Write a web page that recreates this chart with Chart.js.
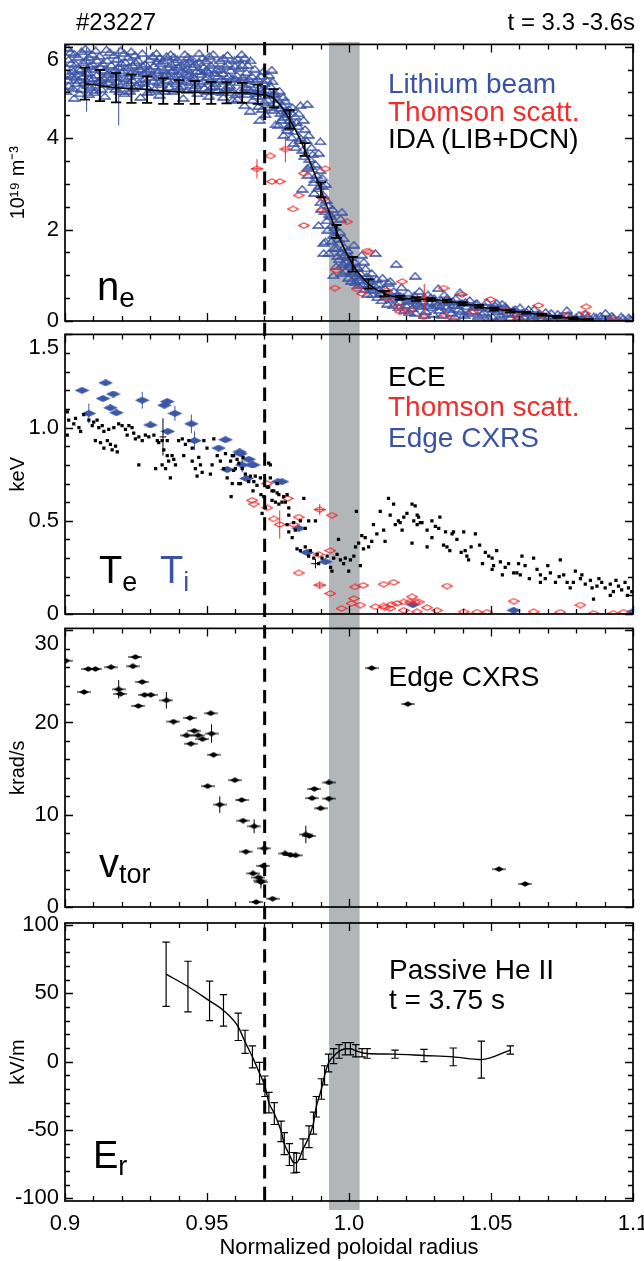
<!DOCTYPE html>
<html>
<head>
<meta charset="utf-8">
<script src="https://cdn.jsdelivr.net/npm/chart.js@4.4.1/dist/chart.umd.min.js"></script>
<style>
  html, body { margin: 0; padding: 0; background: #fff; }
  #fig { position: relative; width: 644px; height: 1261px; overflow: hidden; background: #fff;
         font-family: 'Liberation Sans', Arial, Helvetica, sans-serif; }
  #fig canvas { position: absolute; left: 0; }
  .lbl { position: absolute; white-space: nowrap; line-height: 1; color: #000; }
  .lbl .sub { position: relative; }
</style>
</head>
<body>
<div id="fig">
  <canvas id="band"></canvas>
  <canvas id="cNe"></canvas>
  <canvas id="cTe"></canvas>
  <canvas id="cVt"></canvas>
  <canvas id="cEr"></canvas>
  <canvas id="sep"></canvas>

  <div class="lbl" style="left:76px; top:10px; font-size:24px;">#23227</div>
  <div class="lbl" style="right:9px; top:10px; font-size:24px;">t = 3.3 -3.6s</div>

  <div class="lbl" style="left:388px; top:69.6px; font-size:28px; color:#3a53a4;">Lithium beam</div>
  <div class="lbl" style="left:388px; top:97.7px; font-size:28px; color:#ee2d2d;">Thomson scatt.</div>
  <div class="lbl" style="left:388px; top:125.3px; font-size:28px;">IDA (LIB+DCN)</div>
  <div class="lbl" style="left:97px; top:266px; font-size:40px;">n<span class="sub" style="font-size:28px; top:7px;">e</span></div>

  <div class="lbl" style="left:388px; top:363px; font-size:28px;">ECE</div>
  <div class="lbl" style="left:388px; top:393px; font-size:28px; color:#ee2d2d;">Thomson scatt.</div>
  <div class="lbl" style="left:388px; top:423.5px; font-size:28px; color:#3a53a4;">Edge CXRS</div>
  <div class="lbl" style="left:99px; top:551px; font-size:38px;">T<span class="sub" style="font-size:27px; top:8px;">e</span></div>
  <div class="lbl" style="left:160px; top:551px; font-size:38px; color:#3a53a4;">T<span class="sub" style="font-size:27px; top:8px;">i</span></div>

  <div class="lbl" style="left:388.5px; top:663px; font-size:28px;">Edge CXRS</div>
  <div class="lbl" style="left:99px; top:843px; font-size:40px;">v<span class="sub" style="font-size:27px; top:6px;">tor</span></div>

  <div class="lbl" style="left:389px; top:955.6px; font-size:28px;">Passive He II</div>
  <div class="lbl" style="left:389px; top:985.6px; font-size:28px;">t = 3.75 s</div>
  <div class="lbl" style="left:93px; top:1136px; font-size:38px;">E<span class="sub" style="font-size:27px; top:7px;">r</span></div>
</div>

<script>
// ---------- shared axis definitions ----------
const xRange = [0.9, 1.1];
const xTickValues = [0.9, 0.95, 1.0, 1.05, 1.1];
const xTickLabels = ['0.9', '0.95', '1.0', '1.05', '1.1'];
const xMinorStep = 0.01;

const neTicks = [0, 2, 4, 6];
const neTickLabels = ['0', '2', '4', '6'];
const teTicks = [0, 0.5, 1.0, 1.5];
const teTickLabels = ['0', '0.5', '1.0', '1.5'];
const vtTicks = [0, 10, 20, 30];
const vtTickLabels = ['0', '10', '20', '30'];
const erTicks = [-100, -50, 0, 50, 100];
const erTickLabels = ['-100', '-50', '0', '50', '100'];

// pedestal-top marker and separatrix band (normalized radius)
const pedestalX = [0.9703];
const bandX = [0.9929, 1.0038];

// ---------- density n_e [1e19 m^-3] ----------
const liCore = [
  [0.9008,5.98],[0.9012,5.72],[0.9004,5.55],[0.9015,5.41],[0.9009,5.28],[0.9013,5.15],[0.9006,5.02],
  [0.9033,5.85],[0.9038,5.62],[0.9030,5.47],[0.9036,5.33],[0.9041,5.20],[0.9032,4.88],
  [0.9058,5.90],[0.9063,5.66],[0.9055,5.50],[0.9061,5.36],[0.9066,5.22],[0.9057,5.08],
  [0.9083,5.78],[0.9088,5.58],[0.9081,5.44],[0.9086,5.30],[0.9090,5.12],[0.9084,4.96],
  [0.9108,5.92],[0.9113,5.70],[0.9105,5.52],[0.9111,5.38],[0.9116,5.25],[0.9107,5.05],
  [0.9133,5.64],[0.9138,5.49],[0.9131,5.34],[0.9136,5.18],[0.9140,4.92],
  [0.9158,5.88],[0.9163,5.60],[0.9155,5.45],[0.9161,5.30],[0.9166,5.14],
  [0.9183,5.74],[0.9188,5.56],[0.9180,5.40],[0.9186,5.24],[0.9191,5.02],
  [0.9208,5.86],[0.9213,5.66],[0.9206,5.48],[0.9211,5.32],[0.9216,5.16],[0.9209,4.98],
  [0.9233,5.90],[0.9238,5.60],[0.9230,5.42],[0.9236,5.27],[0.9241,5.10],
  [0.9258,5.70],[0.9263,5.52],[0.9256,5.37],[0.9261,5.22],[0.9266,4.90],
  [0.9283,5.62],[0.9288,5.46],[0.9281,5.30],[0.9286,5.14],[0.9290,5.00],
  [0.9308,5.80],[0.9313,5.58],[0.9305,5.40],[0.9311,5.26],[0.9316,5.08],
  [0.9333,5.76],[0.9338,5.64],[0.9330,5.48],[0.9336,5.33],[0.9341,5.18],[0.9332,4.95],
  [0.9358,5.80],[0.9363,5.55],[0.9356,5.42],[0.9361,5.28],[0.9366,5.12],
  [0.9383,5.78],[0.9388,5.66],[0.9380,5.50],[0.9386,5.36],[0.9391,5.20],[0.9382,5.04],
  [0.9408,5.60],[0.9413,5.46],[0.9405,5.30],[0.9411,5.15],[0.9416,4.88],
  [0.9433,5.78],[0.9438,5.68],[0.9430,5.52],[0.9436,5.38],[0.9441,5.22],[0.9432,5.06],
  [0.9458,5.62],[0.9463,5.47],[0.9456,5.32],[0.9461,5.16],[0.9466,4.98],
  [0.9483,5.76],[0.9488,5.56],[0.9480,5.40],[0.9486,5.25],[0.9491,5.10],
  [0.9508,5.80],[0.9513,5.60],[0.9505,5.44],[0.9511,5.28],[0.9516,5.12],[0.9507,4.92],
  [0.9533,5.50],[0.9538,5.36],[0.9530,5.20],[0.9536,5.04],
  [0.9558,5.76],[0.9563,5.58],[0.9555,5.42],[0.9561,5.26],[0.9566,5.10],[0.9557,4.90],
  [0.9583,5.48],[0.9588,5.32],[0.9580,5.16],[0.9586,5.00],[0.9591,4.84],
  [0.9608,5.74],[0.9613,5.54],[0.9605,5.38],[0.9611,5.22],[0.9616,5.06],[0.9607,4.86],
  [0.9633,5.76],[0.9638,5.44],[0.9630,5.28],[0.9636,5.12],[0.9641,4.96],[0.9632,4.72],
  [0.9653,5.70],[0.9658,5.36],[0.9650,5.18],[0.9656,5.02],[0.9661,4.84],[0.9652,4.60],
  [0.9678,5.30],[0.9683,5.10],[0.9675,4.92],[0.9681,4.70],[0.9686,4.40],
  [0.9698,5.46],[0.9703,5.20],[0.9695,5.00],[0.9701,4.80],[0.9706,4.52],
  [0.9718,5.38],[0.9723,5.14],[0.9716,4.94],[0.9721,4.68]
];
const liCoreB = [
  [0.9020,5.88],[0.9022,5.64],[0.9025,5.36],[0.9027,5.10],[0.9046,5.78],[0.9048,5.52],[0.9050,5.27],
  [0.9052,4.98],[0.9072,5.96],[0.9074,5.70],[0.9076,5.42],[0.9078,5.16],[0.9096,5.84],[0.9098,5.62],
  [0.9100,5.32],[0.9102,5.00],[0.9122,5.80],[0.9124,5.56],[0.9126,5.28],[0.9128,5.08],[0.9146,5.94],
  [0.9148,5.70],[0.9150,5.40],[0.9152,5.22],[0.9172,5.82],[0.9174,5.50],[0.9176,5.34],[0.9178,5.08],
  [0.9196,5.92],[0.9198,5.64],[0.9200,5.44],[0.9202,5.20],[0.9222,5.78],[0.9224,5.56],[0.9226,5.36],
  [0.9228,5.04],[0.9246,5.82],[0.9248,5.66],[0.9250,5.46],[0.9252,5.16],[0.9272,5.86],[0.9274,5.58],
  [0.9276,5.42],[0.9278,5.20],[0.9296,5.72],[0.9298,5.52],[0.9300,5.34],[0.9302,5.02],[0.9322,5.86],
  [0.9324,5.68],[0.9326,5.44],[0.9328,5.22],[0.9346,5.70],[0.9348,5.50],[0.9350,5.36],[0.9352,5.04],
  [0.9372,5.84],[0.9374,5.62],[0.9376,5.46],[0.9378,5.24],[0.9396,5.72],[0.9398,5.56],[0.9400,5.40],
  [0.9402,5.10],[0.9422,5.84],[0.9424,5.64],[0.9426,5.42],[0.9428,5.26],[0.9446,5.74],[0.9448,5.56],
  [0.9450,5.34],[0.9452,5.10],[0.9472,5.86],[0.9474,5.66],[0.9476,5.46],[0.9478,5.20],[0.9496,5.70],
  [0.9498,5.50],[0.9500,5.34],[0.9502,5.04],[0.9522,5.84],[0.9524,5.64],[0.9526,5.42],[0.9528,5.14],
  [0.9546,5.70],[0.9548,5.52],[0.9550,5.30],[0.9552,5.00],[0.9572,5.82],[0.9574,5.62],[0.9576,5.36],
  [0.9578,5.12],[0.9596,5.70],[0.9598,5.58],[0.9600,5.30],[0.9602,4.96],[0.9622,5.84],[0.9624,5.60],
  [0.9626,5.34],[0.9628,5.02],[0.9644,5.60],[0.9646,5.30],[0.9648,5.08],[0.9668,5.52],[0.9670,5.24],
  [0.9672,4.98],[0.9690,5.36],[0.9692,5.06],[0.9694,4.64],[0.9710,5.28],[0.9712,5.04],[0.9714,4.84],
  [0.9728,5.50],[0.9730,5.24],[0.9732,4.96]
];
const liSteep = [
  [0.9735,4.62],[0.9742,4.30],[0.9750,4.85],[0.9752,4.29],[0.9760,4.55],[0.9765,4.72],[0.9770,4.47],
  [0.9770,4.07],[0.9778,4.60],[0.9785,4.25],[0.9790,4.40],[0.9800,4.68],[0.9805,3.89],[0.9808,4.15],
  [0.9815,4.35],[0.9823,4.54],[0.9829,4.72],[0.9830,4.00],[0.9838,3.75],[0.9845,4.20],[0.9853,3.35],
  [0.9853,4.75],[0.9858,4.07],[0.9862,3.55],[0.9868,3.80],[0.9835,2.89],[0.9876,3.03],[0.9882,3.43],
  [0.9886,3.20],[0.9893,3.68],[0.9899,3.93],[0.9895,2.95],[0.9905,3.14],[0.9900,2.60],[0.9911,2.75],
  [0.9915,2.40],[0.9918,3.00],[0.9922,2.20],[0.9929,2.53],[0.9893,2.10],[0.9935,2.30],[0.9940,2.10],
  [0.9946,1.89],[0.9950,2.05],[0.9958,1.60],[0.9962,1.80],[0.9970,2.24],[0.9975,2.39],[0.9981,1.81],
  [0.9985,1.45],[0.9990,1.30],[0.9911,1.71],[0.9917,1.74],[0.9929,1.49],[0.9911,1.49],[0.9995,1.55],
  [1.0000,1.20],[1.0005,1.40],[1.0010,1.10],[1.0017,1.67],[1.0020,1.30],[1.0025,1.00],[1.0030,1.18],
  [1.0035,0.90],[1.0040,1.05],[0.9965,1.35],[0.9955,1.20],[0.9975,1.05],[0.9945,1.00]
];
const liSteepB = [
  [0.9740,4.98],[0.9745,4.76],[0.9755,5.04],[0.9758,4.66],[0.9762,4.40],[0.9768,4.90],[0.9775,4.82],
  [0.9780,4.52],[0.9782,4.18],[0.9788,4.64],[0.9795,4.32],[0.9798,4.02],[0.9810,4.48],[0.9812,3.80],
  [0.9820,4.26],[0.9826,3.95],[0.9840,4.40],[0.9842,3.60],[0.9850,3.95],[0.9855,3.20],[0.9865,3.40],
  [0.9872,3.65],[0.9878,2.80],[0.9880,3.10],[0.9890,2.90],[0.9898,3.30],[0.9902,2.45],[0.9908,2.95],
  [0.9920,2.65],[0.9926,2.00],[0.9932,2.35],[0.9938,1.75],[0.9942,2.45],[0.9948,1.60],[0.9953,1.88],
  [0.9960,1.42],[0.9968,1.95],[0.9972,1.50],[0.9978,1.25],[0.9983,1.62],[0.9988,1.10],[0.9993,1.40],
  [0.9998,0.95],[1.0003,1.25],[1.0008,0.88],[1.0015,1.05],[1.0022,0.85],[1.0028,1.15],[1.0033,0.78],
  [1.0038,0.96]
];
const liTail = [
  [1.0045,1.45],[1.0052,1.30],[1.0058,1.15],[1.0062,0.98],[1.0070,0.88],[1.0075,0.75],[1.0080,1.05],
  [1.0093,1.49],[1.0088,0.68],[1.0098,0.92],[1.0105,0.80],[1.0110,0.62],[1.0118,0.95],[1.0125,0.72],
  [1.0130,0.55],[1.0138,0.84],[1.0145,0.88],[1.0150,0.48],[1.0158,0.66],[1.0166,1.25],[1.0170,0.58],
  [1.0178,0.42],[1.0185,0.74],[1.0192,0.52],[1.0200,0.35],[1.0208,0.62],[1.0215,0.45],[1.0222,0.28],
  [1.0233,0.99],[1.0230,0.56],[1.0240,0.40],[1.0248,0.66],[1.0255,0.32],[1.0262,0.50],[1.0270,0.22],
  [1.0278,0.58],[1.0285,0.40],[1.0292,0.30],[1.0300,0.50],[1.0314,0.72],[1.0310,0.36],[1.0318,0.24],
  [1.0325,0.46],[1.0335,0.58],[1.0342,0.30],[1.0350,0.42],[1.0360,0.18],[1.0368,0.36],[1.0376,0.50],
  [1.0391,0.63],[1.0385,0.26],[1.0398,0.40],[1.0405,0.14],[1.0415,0.32],[1.0425,0.46],[1.0432,0.22],
  [1.0445,0.38],[1.0455,0.12],[1.0462,0.30],[1.0475,0.20],[1.0485,0.42],[1.0495,0.28],[1.0505,0.10],
  [1.0515,0.34],[1.0525,0.22],[1.0539,0.38],[1.0545,0.15],[1.0555,0.28],[1.0568,0.08],[1.0578,0.24],
  [1.0590,0.16],[1.0602,0.30],[1.0615,0.10],[1.0625,0.20],[1.0640,0.05],[1.0652,0.26],[1.0665,0.14],
  [1.0680,0.08],[1.0692,0.20],[1.0705,0.12],[1.0720,0.04],[1.0735,0.16],[1.0750,0.08],[1.0767,0.24],
  [1.0780,0.10],[1.0795,0.04],[1.0810,0.14],[1.0825,0.06],[1.0840,0.10],[1.0855,0.03],[1.0870,0.08],
  [1.0885,0.12],[1.0903,0.18],[1.0915,0.05],[1.0930,0.08],[1.0950,0.03],[1.0965,0.06],[1.0985,0.08],
  [1.0995,0.03]
];
const liTailB = [
  [1.0048,0.82],[1.0055,0.70],[1.0065,0.60],[1.0072,0.95],[1.0082,0.58],[1.0090,0.78],[1.0100,0.52],
  [1.0108,0.70],[1.0115,0.45],[1.0122,0.60],[1.0135,0.38],[1.0142,0.62],[1.0155,0.34],[1.0162,0.52],
  [1.0175,0.30],[1.0182,0.55],[1.0195,0.25],[1.0205,0.44],[1.0212,0.20],[1.0225,0.48],[1.0235,0.18],
  [1.0245,0.36],[1.0258,0.44],[1.0265,0.14],[1.0275,0.34],[1.0288,0.52],[1.0296,0.16],[1.0305,0.42],
  [1.0322,0.32],[1.0330,0.14],[1.0345,0.50],[1.0355,0.26],[1.0365,0.44],[1.0372,0.10],[1.0382,0.34],
  [1.0395,0.22],[1.0410,0.42],[1.0420,0.18],[1.0438,0.30],[1.0450,0.40],[1.0468,0.16],[1.0480,0.32],
  [1.0492,0.06],[1.0510,0.26],[1.0520,0.40],[1.0532,0.12],[1.0550,0.32],[1.0562,0.18],[1.0585,0.26],
  [1.0598,0.10],[1.0610,0.18],[1.0632,0.26],[1.0645,0.12],[1.0670,0.18],[1.0698,0.06],[1.0712,0.18],
  [1.0742,0.10],[1.0772,0.14],[1.0800,0.08],[1.0832,0.16],[1.0862,0.10],[1.0895,0.04],[1.0925,0.12],
  [1.0958,0.10],[1.0990,0.05]
];
const liErr = [[0.9076,5.28,0.70],[0.9189,5.13,0.85],[0.9287,5.50,0.50],[0.9491,5.45,0.09]];

const thomNe = [
  [0.9676,3.33],[0.9723,3.61],[0.9776,3.76],[0.9729,3.05],[0.9756,3.05],[0.9841,3.23],[0.9917,3.33],
  [0.9823,2.75],[0.9803,2.45],[0.9911,2.67],[0.9841,2.09],[0.9905,2.42],[0.9993,2.17],[1.0063,1.53],
  [1.0072,1.51],[0.9955,1.11],[0.9950,0.72],[1.0027,0.70],[1.0045,0.60],[1.0133,0.67],[1.0133,0.49],
  [1.0174,0.32],[1.0180,0.20],[1.0216,0.24],[1.0265,0.51],[1.0263,0.09],[1.0339,0.11],[1.0368,0.02],
  [1.0333,0.72],[1.0398,0.58],[1.0498,0.47],[1.0187,0.86],[1.0591,0.09],[1.0667,0.34],[1.0679,0.13],
  [1.0761,0.11],[1.0835,0.31],[1.0831,0.17],[1.0849,0.01],[1.0929,0.04],[1.0438,0.20],[1.0556,0.24]
];
const thomNeErr = [[0.9676,3.33,0.21,0.0022],[0.9776,3.76,0.29,0.0015],[1.0265,0.51,0.30,0]];

const idaX = [0.9070,0.9123,0.9180,0.9234,0.9289,0.9346,0.9401,0.9457,0.9515,0.9569,0.9624,0.9679,
              0.9735,0.9791,0.9844,0.9901,0.9956,1.0013,1.0069,1.0125,1.0180,1.0236,1.0289,1.0345,
              1.0401,1.0457,1.0511,1.0568,1.0623,1.0679,1.0734,1.0790,1.0843];
const idaY = [5.19,5.15,5.10,5.08,5.06,5.03,5.01,5.00,4.99,4.99,4.99,4.96,
              4.87,4.41,3.75,2.87,1.96,1.24,0.81,0.60,0.51,0.48,0.47,0.44,
              0.38,0.32,0.26,0.22,0.18,0.14,0.09,0.06,0.02];
const idaErr = [0.35,0.34,0.32,0.31,0.29,0.28,0.26,0.25,0.24,0.23,0.22,0.21,
                0.20,0.20,0.14,0.16,0.14,0.16,0.10,0.06,0.04,0.04,0.03,0.03,
                0.03,0.03,0.03,0.03,0.02,0.02,0.02,0.02,0.02];

// ---------- temperatures [keV] ----------
const eceCore = [
  [0.9008,1.085],[0.9013,1.04],[0.9008,0.96],[0.9037,1.05],[0.9031,1.02],[0.9049,1.00],[0.9055,0.98],
  [0.9066,1.07],[0.9084,1.04],[0.9096,1.01],[0.9101,1.03],[0.9113,1.04],[0.9119,1.00],[0.9131,1.01],
  [0.9137,0.98],[0.9107,0.93],[0.9125,0.92],[0.9149,0.93],[0.9137,0.89],[0.9160,0.91],[0.9166,0.88],
  [0.9178,0.90],[0.9184,0.87],[0.9154,0.99],[0.9172,1.00],[0.9189,1.02],[0.9201,1.01],[0.9213,0.99],
  [0.9225,1.01],[0.9236,1.00],[0.9219,0.96],[0.9248,0.94],[0.9242,0.97],[0.9260,0.80],[0.9260,0.95],
  [0.9272,0.93],[0.9283,0.96],[0.9295,0.95],[0.9313,0.96],[0.9325,0.93],[0.9330,0.92],[0.9319,0.78],
  [0.9342,0.93],[0.9348,0.88],[0.9360,0.93],[0.9342,0.80],[0.9360,0.85],[0.9365,0.82],[0.9377,0.85],
  [0.9383,0.83],[0.9371,0.73],[0.9354,0.78],[0.9389,0.80],[0.9400,0.93],[0.9413,0.94],[0.9424,0.91],
  [0.9436,0.93],[0.9448,0.89],[0.9418,0.85],[0.9448,0.82],[0.9459,0.78],[0.9465,0.74],[0.9483,0.76],
  [0.9477,0.80],[0.9471,0.84],[0.9489,0.93],[0.9500,0.89],[0.9518,0.80],[0.9512,0.75],[0.9524,0.94],
  [0.9536,0.85],[0.9547,0.82],[0.9559,0.78],[0.9565,0.86],[0.9571,0.73],[0.9583,0.82],[0.9589,0.70],
  [0.9594,0.77],[0.9594,0.85],[0.9585,0.63],[0.9612,0.81],[0.9618,0.70],[0.9627,0.84],[0.9635,0.75],
  [0.9647,0.71],[0.9653,0.74],[0.9665,0.71],[0.9662,0.66],[0.9676,0.69],[0.9688,0.73],[0.9690,0.64],
  [0.9700,0.63],[0.9717,0.81],[0.9717,0.68],[0.9694,0.54],[0.9735,0.66],[0.9747,0.65],[0.9729,0.61],
  [0.9753,0.59],[0.9770,0.63],[0.9776,0.60],[0.9788,0.53]
];
const eceEdge = [
  [0.9589,0.85],[0.9606,0.83],[0.9600,0.78],[0.9624,0.78],[0.9612,0.70],[0.9670,0.74],[0.9723,0.80],
  [0.9723,0.73],[0.9712,0.68],[0.9706,0.57],[0.9729,0.66],[0.9747,0.70],[0.9753,0.64],[0.9764,0.60],
  [0.9741,0.60],[0.9782,0.64],[0.9788,0.57],[0.9841,0.62],[0.9782,0.48],[0.9805,0.49],[0.9788,0.44],
  [0.9800,0.41],[0.9811,0.45],[0.9829,0.50],[0.9858,0.50],[0.9882,0.50],[0.9846,0.46],[0.9817,0.35],
  [0.9829,0.34],[0.9846,0.36],[0.9858,0.31],[0.9864,0.34],[0.9876,0.30],[0.9888,0.32],[0.9905,0.30],
  [0.9893,0.27],[0.9923,0.31],[0.9935,0.25],[0.9940,0.23],[0.9946,0.30],[0.9958,0.32],[0.9963,0.40],
  [0.9970,0.29],[0.9981,0.27],[0.9987,0.30],[0.9999,0.23],[1.0005,0.29],[1.0017,0.31],[1.0023,0.36],
  [1.0034,0.38],[1.0040,0.26],[1.0026,0.55],[1.0045,0.42],[1.0057,0.41],[1.0051,0.35],[1.0069,0.36],
  [1.0080,0.39],[1.0086,0.48],[1.0098,0.43],[1.0110,0.55],[1.0122,0.45],[1.0127,0.39],[1.0139,0.62],
  [1.0145,0.53],[1.0157,0.59],[1.0163,0.48],[1.0174,0.50],[1.0187,0.45],[1.0193,0.52],[1.0204,0.54],
  [1.0222,0.59],[1.0228,0.50],[1.0240,0.48],[1.0245,0.52],[1.0257,0.49],[1.0222,0.38],[1.0275,0.36],
  [1.0275,0.45]
];
const eceSol = [
  [1.0180,0.49],[1.0233,0.58],[1.0240,0.53],[1.0251,0.49],[1.0292,0.50],[1.0304,0.47],[1.0316,0.46],
  [1.0292,0.41],[1.0333,0.37],[1.0345,0.36],[1.0363,0.43],[1.0368,0.44],[1.0409,0.34],[1.0415,0.31],
  [1.0421,0.29],[1.0445,0.43],[1.0404,0.44],[1.0480,0.33],[1.0492,0.31],[1.0504,0.30],[1.0509,0.26],
  [1.0504,0.24],[1.0533,0.28],[1.0550,0.25],[1.0562,0.27],[1.0580,0.22],[1.0591,0.22],[1.0603,0.21],
  [1.0597,0.27],[1.0609,0.31],[1.0650,0.30],[1.0662,0.24],[1.0674,0.21],[1.0691,0.19],[1.0674,0.17],
  [1.0709,0.22],[1.0727,0.17],[1.0744,0.29],[1.0756,0.21],[1.0768,0.17],[1.0779,0.14],[1.0797,0.23],
  [1.0815,0.19],[1.0832,0.16],[1.0850,0.18],[1.0856,0.14],[1.0873,0.15],[1.0890,0.17],[1.0902,0.14],
  [1.0920,0.16],[1.0931,0.12],[1.0949,0.15],[1.0960,0.13],[1.0972,0.17],[1.0984,0.14],[1.0996,0.12],
  [1.0861,0.08],[1.0920,0.10],[1.0320,0.52],[1.0340,0.44],[1.0355,0.34],[1.0380,0.40],[1.0395,0.33],
  [1.0430,0.36],[1.0460,0.37],[1.0470,0.27],[1.0520,0.34],[1.0540,0.21],[1.0620,0.26],[1.0635,0.19],
  [1.0700,0.26],[1.0740,0.20],[1.0790,0.17],[1.0820,0.21],[1.0880,0.19],[1.0940,0.18],[1.0980,0.10]
];
const eceErr = [[0.9345,0.95,0.10,0.0012],[0.9882,0.27,0.025,0.0015]];

const thomTe = [
  [0.9712,0.70],[0.9659,0.61],[0.9665,0.59],[0.9712,0.57],[0.9735,0.51],[0.9756,0.48],[0.9784,0.62],
  [0.9805,0.48],[0.9823,0.52],[0.9897,0.56],[0.9940,0.53],[0.9934,0.34],[0.9893,0.32],[0.9823,0.22],
  [0.9897,0.155],[0.9934,0.11],[0.9974,0.03],[1.0009,0.057],[1.0021,0.145],[1.0050,0.154],[1.0017,0.083],
  [1.0040,0.048],[1.0122,0.16],[1.0157,0.17],[1.0093,0.039],[1.0122,0.043],[1.0145,0.03],[1.0169,0.057],
  [1.0193,0.065],[1.0222,0.092],[1.0233,0.065],[1.0239,0.012],[1.0193,0.02],[1.0345,0.15],[1.0275,0.034],
  [1.0310,0.02],[1.0404,0.012],[1.0451,0.01],[1.0486,0.01],[1.0580,0.069],[1.0650,0.012],[1.0744,0.01],
  [1.0815,0.048],[1.0861,0.004],[1.0931,0.004],[1.0967,0.01],[1.0127,0.034],[1.0150,0.052],[1.0216,0.065],
  [1.0245,0.065]
];
const thomTeErr = [[0.9756,0.48,0.075,0],[0.9897,0.56,0.03,0.0022],[0.9897,0.155,0.02,0.0022]];

const cxrsTi = [
  [0.9060,1.20],[0.9084,1.076],[0.9143,1.24],[0.9134,1.156],[0.9170,1.18],[0.9160,1.106],[0.9181,1.08],
  [0.9272,1.147],[0.9301,1.014],[0.9350,1.12],[0.9360,1.14],[0.9387,1.076],[0.9362,0.98],[0.9445,1.02],
  [0.9456,0.93],[0.9565,0.935],[0.9541,0.89],[0.9615,0.87],[0.9647,0.83],[0.9624,0.80],[0.9662,0.80],
  [0.9571,0.775],[0.9639,0.727],[0.9750,0.71],[0.9764,0.71],[0.9823,0.46],[0.9852,0.33],[0.9917,0.28],
  [1.0225,0.05],[1.0580,0.02],[1.1000,0.012],[0.9659,0.80],[0.9618,0.86]
];
const cxrsTiErr = [[0.9084,1.076,0.053],[0.9272,1.147,0.045],[0.9387,1.076,0.04],[0.9445,1.02,0.05],
                   [0.9456,0.93,0.05],[0.9624,0.80,0.04]];

// ---------- toroidal rotation [krad/s] ----------
const vtor = [
  [0.9002,26.7],[0.9067,23.3],[0.9082,25.8],[0.9107,25.8],[0.9162,26.0],[0.9189,23.6],[0.9195,23.1],
  [0.9239,26.1],[0.9248,27.1],[0.9272,24.4],[0.9258,21.8],[0.9280,23.0],[0.9302,23.0],[0.9357,22.4],
  [0.9382,20.1],[0.9440,20.5],[0.9428,18.6],[0.9443,17.7],[0.9455,19.1],[0.9469,18.6],[0.9484,18.2],
  [0.9513,21.0],[0.9516,18.8],[0.9502,13.1],[0.9523,16.5],[0.9545,11.1],[0.9598,13.75],[0.9622,11.6],
  [0.9627,9.36],[0.9637,6.0],[0.9666,8.75],[0.9662,3.64],[0.9673,0.54],[0.9681,3.2],[0.9688,2.86],
  [0.9690,2.7],[0.9702,6.36],[0.9698,4.46],[0.9731,0.9],[0.9775,5.8],[0.9794,5.64],[0.9812,5.6],
  [0.9848,7.86],[0.9860,7.7],[0.9878,12.8],[0.9870,11.8],[0.9900,10.7],[0.9929,13.5],[0.9929,11.75],
  [1.0080,25.9],[1.0207,22.0],[1.0528,4.1],[1.0620,2.5]
];
const vtorErr = [[0.9189,23.6,1.0],[0.9357,22.4,0.9],[0.9516,18.8,1.0],[0.9545,11.1,0.9],
                 [0.9666,8.75,0.75],[0.9690,2.7,0.7],[0.9848,7.86,0.95]];

// ---------- radial electric field [kV/m] ----------
const erX = [0.9356,0.9433,0.9509,0.9558,0.9610,0.9634,0.9660,0.9685,0.9704,0.9718,
             0.9737,0.9761,0.9772,0.9790,0.9806,0.9815,0.9838,0.9859,0.9875,0.9885,
             0.9903,0.9914,0.9928,0.9946,0.9965,0.9987,1.0005,1.0024,1.0046,1.0064,
             1.0162,1.0264,1.0367,1.0466,1.0568];
const erY = [64,55,44.5,37.5,25.5,14.5,3.5,-8.5,-18,-30,
             -38,-51,-60,-68,-74,-74,-64,-55,-45,-33,
             -20,-10,-1,4,7.5,9.5,9.5,8,6.5,6,
             5.5,4.5,3.5,1.5,8.5];
const erErr = [23.5,18.5,14.5,11.5,10,8.5,8,8,7.5,7.5,
               8,7.5,8,8,7.5,7,7.5,8,8,7.5,
               7.5,7,6.5,5.5,5,4.5,4.5,4.5,3,3.5,
               3,4.5,6.5,13.5,3];

// ---------- drawing setup ----------
const FIG_H = 1261, CANVAS_W = 700, PLOT_L = 65, PLOT_R = 633, PAD = 30;
const LI_BLUE = '#3a53a4', CX_BLUE = '#3b57a8', TS_RED = '#ee2b2b', BAND_GREY = '#b3b6b9';
Chart.defaults.font.family = "'Liberation Sans', Arial, Helvetica, sans-serif";
Chart.defaults.color = '#000';

function markCanvas(w, h, paint) {
  const c = document.createElement('canvas');
  c.width = w; c.height = h;
  paint(c.getContext('2d'), w, h);
  return c;
}
const triMark = markCanvas(13, 8, (g, w, h) => {
  g.strokeStyle = LI_BLUE; g.lineWidth = 1.3;
  g.beginPath(); g.moveTo(w / 2, 1); g.lineTo(w - 1, h - 1); g.lineTo(1, h - 1); g.closePath(); g.stroke();
});
const redDiamond = markCanvas(12, 7, (g, w, h) => {
  g.strokeStyle = TS_RED; g.lineWidth = 1.1;
  g.beginPath(); g.moveTo(0.8, h / 2); g.lineTo(w / 2, 0.8); g.lineTo(w - 0.8, h / 2); g.lineTo(w / 2, h - 0.8);
  g.closePath(); g.stroke();
});
const blueDiamond = markCanvas(15, 7, (g, w, h) => {
  g.fillStyle = CX_BLUE;
  g.beginPath(); g.moveTo(0, h / 2); g.lineTo(w / 2, 0); g.lineTo(w, h / 2); g.lineTo(w / 2, h); g.closePath(); g.fill();
});
const blackDiamond = markCanvas(14, 6, (g, w, h) => {
  g.fillStyle = '#000';
  g.beginPath(); g.moveTo(2, h / 2); g.lineTo(w / 2, 0.3); g.lineTo(w - 2, h / 2); g.lineTo(w / 2, h - 0.3); g.closePath(); g.fill();
  g.fillRect(0, h / 2 - 0.5, w, 1);
});

const toXY = arr => arr.map(([x, y]) => ({ x, y }));

// vertical (and optional horizontal) error segments, broken with null gaps
function errorPath(rows, cap) {
  const out = [];
  for (const [x, y, dy, dx] of rows) {
    if (dy) {
      out.push({ x, y: y - dy }, { x, y: y + dy }, { x, y: null });
      if (cap) {
        out.push({ x: x - cap, y: y - dy }, { x: x + cap, y: y - dy }, { x, y: null },
                 { x: x - cap, y: y + dy }, { x: x + cap, y: y + dy }, { x, y: null });
      }
    }
    if (dx) out.push({ x: x - dx, y }, { x: x + dx, y }, { x, y: null });
  }
  return out;
}
const marks = (data, style, order, radius) => ({
  data: toXY(data), pointStyle: style, pointRadius: radius || 3, pointBackgroundColor: '#000',
  pointBorderWidth: 0, showLine: false, order
});
const lines = (data, color, width, order, extra) => Object.assign({
  data, borderColor: color, borderWidth: width, pointRadius: 0, showLine: true, fill: false,
  tension: 0, spanGaps: false, order
}, extra || {});

// frame and inward tick marks on all four sides
const frameTicks = {
  id: 'frameTicks',
  afterDatasetsDraw(chart, _args, o) {
    const { ctx, chartArea: a } = chart;
    const xs = chart.scales.x, ys = chart.scales.y;
    const isMajor = (v, majors) => majors.some(m => Math.abs(m - v) < 1e-7);
    ctx.save();
    ctx.strokeStyle = '#000';
    ctx.lineWidth = 1.3;
    ctx.beginPath();
    for (let i = 0; ; i++) {
      const v = +(xRange[0] + i * xMinorStep).toFixed(6);
      if (v > xRange[1] + 1e-9) break;
      const px = Math.round(xs.getPixelForValue(v)) + 0.5;
      const len = isMajor(v, xTickValues) ? 8 : 5;
      ctx.moveTo(px, a.bottom); ctx.lineTo(px, a.bottom - len);
      ctx.moveTo(px, a.top); ctx.lineTo(px, a.top + len);
    }
    const step = o.yMinor;
    for (let k = Math.ceil(ys.min / step - 1e-9); k * step <= ys.max + 1e-9; k++) {
      const v = +(k * step).toFixed(6);
      const py = Math.round(ys.getPixelForValue(v)) + 0.5;
      const len = isMajor(v, o.yMajor) ? 8 : 5;
      ctx.moveTo(a.left, py); ctx.lineTo(a.left + len, py);
      ctx.moveTo(a.right, py); ctx.lineTo(a.right - len, py);
    }
    ctx.stroke();
    ctx.lineWidth = 1.7;
    ctx.strokeRect(a.left, a.top, a.right - a.left, a.bottom - a.top);
    ctx.restore();
  }
};

function placeCanvas(id, top, height) {
  const c = document.getElementById(id);
  c.width = CANVAS_W; c.height = height;
  c.style.top = top + 'px'; c.style.width = CANVAS_W + 'px'; c.style.height = height + 'px';
  return c;
}

function drawPanel(p, last) {
  const top = p.top - PAD;
  const height = last ? FIG_H - top : (p.bottom - p.top) + 2 * PAD;
  const xAxisH = last ? height - PAD - (p.bottom - p.top) : 0;
  const cv = placeCanvas(p.id, top, height);
  new Chart(cv, {
    type: 'scatter',
    data: { datasets: p.datasets },
    plugins: [frameTicks],
    options: {
      responsive: false, animation: false, devicePixelRatio: 1, events: [],
      layout: { padding: { left: 0, right: CANVAS_W - PLOT_R, top: PAD, bottom: last ? 0 : PAD } },
      plugins: {
        legend: { display: false }, tooltip: { enabled: false },
        frameTicks: { yMajor: p.ticks, yMinor: p.minor }
      },
      scales: {
        x: {
          type: 'linear', min: xRange[0], max: xRange[1], bounds: 'data', display: last,
          grid: { display: false, drawTicks: false }, border: { display: false },
          afterBuildTicks: s => { s.ticks = xTickValues.map(v => ({ value: v })); },
          afterFit: s => { if (last) s.height = xAxisH; },
          ticks: { autoSkip: false, maxRotation: 0, padding: 10, color: '#000', font: { size: 22 },
                   callback: (v, i) => xTickLabels[i] },
          title: { display: last, text: 'Normalized poloidal radius', color: '#000',
                   font: { size: 22 }, padding: { top: 0, bottom: 0 } }
        },
        y: {
          type: 'linear', min: p.y[0], max: p.y[1], bounds: 'data',
          grid: { display: false, drawTicks: false }, border: { display: false },
          afterBuildTicks: s => { s.ticks = p.ticks.map(v => ({ value: v })); },
          afterFit: s => { s.width = PLOT_L; },
          ticks: { autoSkip: false, padding: 6, color: '#000', font: { size: 22 },
                   callback: (v, i) => (p.dropTop && i === p.ticks.length - 1) ? ['', p.labels[i]] : p.labels[i] },
          title: { display: true, text: p.title, color: '#000', font: { size: 20 }, padding: { top: 6, bottom: 0 } }
        }
      }
    }
  });
}

function overlay(id, top, height, dataset) {
  const cv = placeCanvas(id, top, height);
  new Chart(cv, {
    type: 'scatter',
    data: { datasets: [dataset] },
    options: {
      responsive: false, animation: false, devicePixelRatio: 1, events: [],
      layout: { padding: { left: PLOT_L, right: CANVAS_W - PLOT_R, top: 0, bottom: 0 } },
      plugins: { legend: { display: false }, tooltip: { enabled: false } },
      scales: {
        x: { type: 'linear', min: xRange[0], max: xRange[1], display: false },
        y: { type: 'linear', min: 0, max: 1, display: false }
      }
    }
  });
}

const idaRows = idaX.map((x, i) => [x, idaY[i], idaErr[i]]);
const erRows = erX.map((x, i) => [x, erY[i], erErr[i]]);

const panels = [
  { id: 'cNe', top: 42, bottom: 321, y: [0, 6.05], ticks: neTicks, labels: neTickLabels, minor: 0.5,
    title: '10¹⁹ m⁻³', dropTop: true,
    datasets: [
      lines(errorPath(idaRows, 0.0018), '#000', 1.8, 0),
      lines(idaX.map((x, i) => ({ x, y: idaY[i] })), '#000', 1.5, 1, { cubicInterpolationMode: 'monotone' }),
      lines(errorPath(thomNeErr), TS_RED, 1, 2),
      marks(thomNe, redDiamond, 3),
      lines(errorPath(liErr), LI_BLUE, 1, 4),
      marks([...liCore, ...liCoreB, ...liSteep, ...liSteepB, ...liTail, ...liTailB], triMark, 5)
    ] },
  { id: 'cTe', top: 332, bottom: 614, y: [0, 1.5], ticks: teTicks, labels: teTickLabels, minor: 0.1,
    title: 'keV', dropTop: true,
    datasets: [
      lines(errorPath(eceErr), '#000', 1, 0),
      marks([...eceCore, ...eceEdge, ...eceSol], 'rect', 1, 2.3),
      lines(errorPath(thomTeErr), TS_RED, 1, 2),
      marks(thomTe, redDiamond, 3),
      lines(errorPath(cxrsTiErr), CX_BLUE, 1, 4),
      marks(cxrsTi, blueDiamond, 5)
    ] },
  { id: 'cVt', top: 626, bottom: 907, y: [0, 30.2], ticks: vtTicks, labels: vtTickLabels, minor: 2,
    title: 'krad/s', dropTop: true,
    datasets: [
      lines(errorPath(vtorErr), '#000', 1, 0),
      marks(vtor, blackDiamond, 1)
    ] },
  { id: 'cEr', top: 923, bottom: 1201, y: [-102, 101.5], ticks: erTicks, labels: erTickLabels, minor: 10,
    title: 'kV/m', dropTop: false,
    datasets: [
      lines(errorPath(erRows, 0.0013), '#000', 1.2, 0),
      lines(erX.map((x, i) => ({ x, y: erY[i] })), '#000', 1.4, 1, { cubicInterpolationMode: 'monotone' })
    ] }
];

overlay('band', 42, 1168, {
  data: [{ x: bandX[0], y: 1 }, { x: bandX[1], y: 1 }], showLine: true, fill: 'start',
  backgroundColor: BAND_GREY, borderWidth: 0, pointRadius: 0
});
panels.forEach((p, i) => drawPanel(p, i === panels.length - 1));
overlay('sep', 42, 1159, {
  data: [{ x: pedestalX[0], y: 1 }, { x: pedestalX[0], y: 0 }], showLine: true,
  borderColor: '#000', borderWidth: 3, borderDash: [13.3, 8.3], pointRadius: 0
});
</script>
</body>
</html>
